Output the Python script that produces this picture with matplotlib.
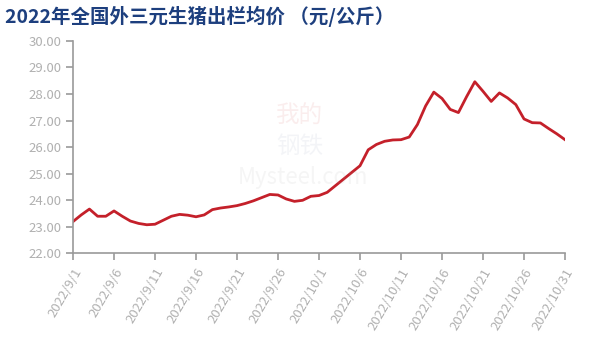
import numpy as np
import pandas as pd
import matplotlib
matplotlib.use('Agg')
import matplotlib.pyplot as plt

plt.rcParams['font.family'] = ['Noto Sans CJK SC', 'DejaVu Sans']

dates = pd.date_range('2022-09-01', '2022-10-31', freq='D')
price = [23.20, 23.45, 23.67, 23.40, 23.40, 23.60, 23.40, 23.22, 23.13, 23.08,
         23.10, 23.25, 23.40, 23.47, 23.44, 23.38, 23.45, 23.65, 23.71, 23.75,
         23.80, 23.88, 23.98, 24.10, 24.22, 24.20, 24.05, 23.96, 24.00, 24.15,
         24.18, 24.30, 24.55, 24.80, 25.05, 25.30, 25.90, 26.10, 26.22, 26.27,
         26.28, 26.38, 26.85, 27.55, 28.07, 27.83, 27.42, 27.30, 27.90, 28.46,
         28.10, 27.72, 28.04, 27.85, 27.60, 27.06, 26.92, 26.91, 26.70, 26.50,
         26.28]
tick_idx = list(range(0, 61, 5))
tick_labels = [f'{d.year}/{d.month}/{d.day}' for d in dates[tick_idx]]
y_ticks = np.arange(22, 30.5, 1)

fig = plt.figure(figsize=(6, 3.58), dpi=100)
ax = fig.add_axes([0.1217, 0.292, 0.82, 0.594])

# watermark
fig.text(0.50, 0.675, '我的', color='#d04040', alpha=0.09, fontsize=17, ha='center', va='center')
fig.text(0.50, 0.590, '钢铁', color='#8090b0', alpha=0.09, fontsize=17, ha='center', va='center')
fig.text(0.505, 0.505, 'Mysteel.com', color='#a0a0a0', alpha=0.10, fontsize=16, ha='center', va='center')

x = np.arange(len(price))
ax.plot(x, price, color='#c4202a', linewidth=2.0)

ax.set_xlim(0, 60)
ax.set_ylim(22, 30)
ax.set_yticks(y_ticks)
ax.set_yticklabels([f'{v:.2f}' for v in y_ticks])
ax.set_xticks(tick_idx)
ax.set_xticklabels(tick_labels, rotation=60, ha='right', rotation_mode='anchor')

for s in ['top', 'right']:
    ax.spines[s].set_visible(False)
for s in ['left', 'bottom']:
    ax.spines[s].set_color('#9a9a9a')
    ax.spines[s].set_linewidth(1.2)
ax.tick_params(axis='both', colors='#9a9a9a', labelcolor='#b0b0b0', length=5, width=1.2, labelsize=9.5)
ax.tick_params(axis='x', pad=4)

fig.text(0.008, 0.955, '2022年全国外三元生猪出栏均价 （元/公斤）', fontsize=14,
         fontweight='bold', color='#1d3f7e', ha='left', va='center')

fig.savefig('out.png', dpi=100)
